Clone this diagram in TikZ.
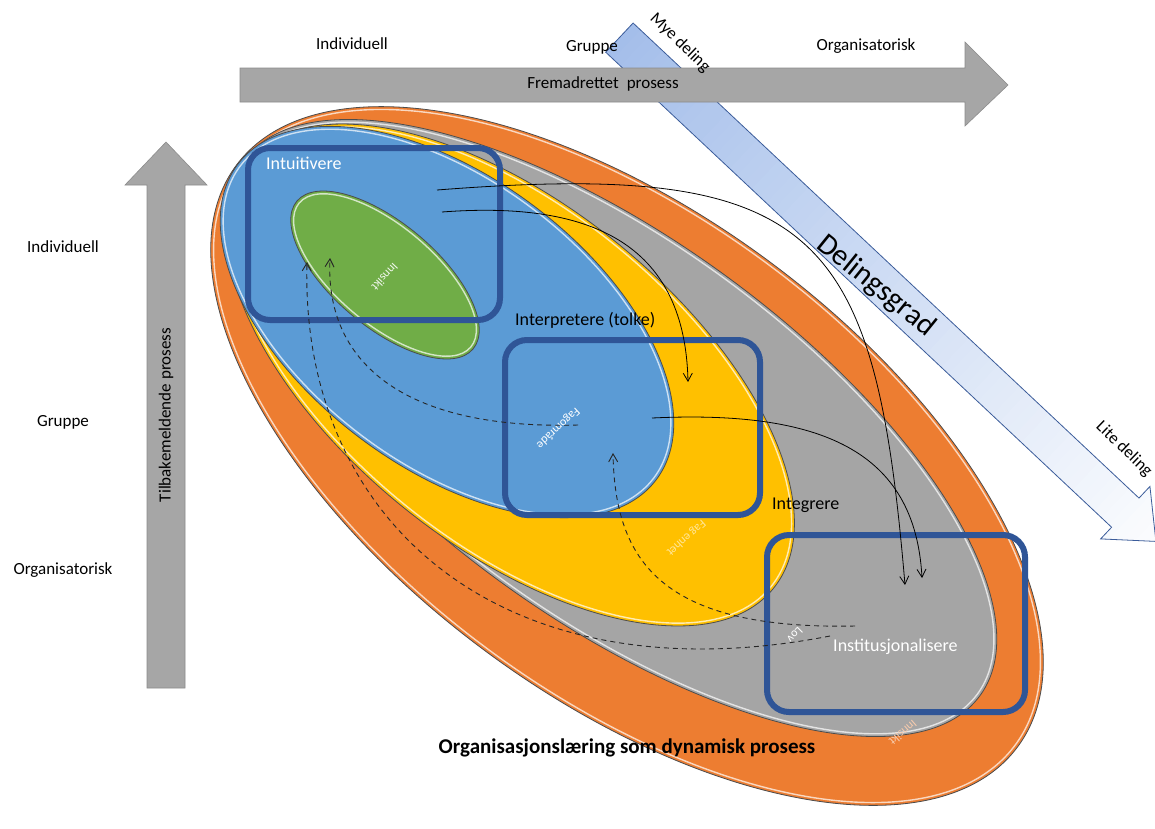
\documentclass[tikz,border=0pt]{standalone}
\usepackage{fontspec}
\setmainfont{Carlito}
\usetikzlibrary{arrows.meta}

\definecolor{cOrange}{HTML}{ED7D31}
\definecolor{cGray}{HTML}{A5A5A5}
\definecolor{cYellow}{HTML}{FFC000}
\definecolor{cBlue}{HTML}{5B9BD5}
\definecolor{cGreen}{HTML}{70AD47}
\definecolor{cBox}{HTML}{2F5597}
\definecolor{cArrow}{HTML}{A6A6A6}
\definecolor{cArrowEdge}{HTML}{8C8C8C}
\definecolor{cBand}{HTML}{A4BEEA}
\definecolor{cBandEdge}{HTML}{3B5C9A}

\tikzset{
  lbl/.style={font=\fontsize{17}{19}\selectfont, inner sep=1pt},
  inlbl/.style={font=\fontsize{18}{20}\selectfont, inner sep=1pt},
  wlbl/.style={inlbl, text=white},
  ringedge/.style={draw=black!70, line width=0.8pt},
  ringlight/.style={draw=white, opacity=0.7, line width=1.4pt},
  stagebox/.style={draw=cBox, line width=6pt, rounded corners=22pt, fill=none},
  flow/.style={draw=black, line width=0.8pt, -{Straight Barb[length=8pt,width=9pt]}},
  back/.style={draw=black!85, line width=0.9pt, dash pattern=on 5pt off 4pt, -{Straight Barb[length=8pt,width=9pt]}},
  turned/.style={font=\fontsize{12}{14}\selectfont, inner sep=0pt},
  bigarrow/.style={fill=cArrow, draw=cArrowEdge, line width=0.6pt},
}

\begin{document}
\begin{tikzpicture}[x=1pt,y=-1pt]
\useasboundingbox (0,0) rectangle (1155,828);
\fill[white] (0,0) rectangle (1155,828);

% nested learning levels
\fill[cOrange, rotate around={-36.7:(627,456)}] (627,456) ellipse [x radius=487, y radius=241];
\path[ringlight, rotate around={-36.7:(627,456)}] (627,456) ellipse [x radius=484, y radius=238];
\path[ringedge, rotate around={-36.7:(627,456)}] (627,456) ellipse [x radius=487, y radius=241];

\fill[cGray, rotate around={-36:(612,428)}] (612,428) ellipse [x radius=455, y radius=190];
\path[ringlight, rotate around={-36:(612,428)}] (612,428) ellipse [x radius=452, y radius=187];
\path[ringedge, rotate around={-36:(612,428)}] (612,428) ellipse [x radius=455, y radius=190];

\fill[cYellow, rotate around={-39:(510,375)}] (510,375) ellipse [x radius=339, y radius=170];
\path[ringlight, rotate around={-39:(510,375)}] (510,375) ellipse [x radius=336, y radius=167];
\path[ringedge, rotate around={-39:(510,375)}] (510,375) ellipse [x radius=339, y radius=170];

\fill[cBlue, rotate around={-37:(447,322)}] (447,322) ellipse [x radius=262, y radius=145];
\path[ringlight, rotate around={-37:(447,322)}] (447,322) ellipse [x radius=259, y radius=142];
\path[ringedge, rotate around={-37:(447,322)}] (447,322) ellipse [x radius=262, y radius=145];

\fill[cGreen, rotate around={-40:(385,275)}] (385,275) ellipse [x radius=115, y radius=52];
\path[ringlight, rotate around={-40:(385,275)}] (385,275) ellipse [x radius=112, y radius=49];
\path[ringedge, rotate around={-40:(385,275)}] (385,275) ellipse [x radius=115, y radius=52];

% words inside the levels
\node[turned, text=white!90!cGreen, rotate=227] (wGreen) at (385,277) {Innsikt};
\node[turned, text=white, rotate=223] (wBlue) at (558,428) {Fagområde};
\node[turned, text=white!60!cYellow, rotate=222] (wYellow) at (686,538) {Fag enhet};
\node[turned, text=white, rotate=225] (wGray) at (795,635) {Lov};
\node[turned, text=white!60!cOrange, rotate=221] (wOrange) at (903,733) {Innsikt};

% the four stages
\node[stagebox, minimum width=252pt, minimum height=172pt] (bIntu) at (374,234) {};
\node[stagebox, minimum width=255pt, minimum height=175pt] (bInterp) at (632.5,427.5) {};
\node[stagebox, minimum width=258pt, minimum height=177pt] (bInst) at (896,623.5) {};

\node[wlbl, anchor=west] (lIntu) at (265,163) {Intuitivere};
\node[inlbl, anchor=west] (lInterp) at (514,320) {Interpretere (tolke)};
\node[inlbl, anchor=west] (lInteg) at (771,505) {Integrere};
\node[wlbl, anchor=west] (lInst) at (832,647) {Institusjonalisere};

% degree of sharing
\begin{scope}[shift={(619.4,37.6)}, rotate=-43.2]
  \begin{scope}
    \clip (0,-20) -- (694,-20) -- (694,-36) -- (736,0) -- (694,36) -- (694,20) -- (0,20) -- cycle;
    \foreach \i in {0,...,74} {
      \pgfmathtruncatemacro\p{max(3,100-\i*1.3)}
      \fill[cBand!\p!white] (\i*10,-40) rectangle (\i*10+11,40);
    }
  \end{scope}
  \draw[cBandEdge, line width=0.8pt] (0,-20) -- (694,-20) -- (694,-36) -- (736,0) -- (694,36) -- (694,20) -- (0,20) -- cycle;
\end{scope}
\node[font=\fontsize{30}{32}\selectfont, rotate=-39] (tShare) at (876,286) {Delingsgrad};
\node[lbl, rotate=-44] (tLittle) at (1124,449) {Lite deling};

% flows forward
\coordinate (f1s) at (437,190);  \coordinate (f1e) at (905,585);
\coordinate (f2s) at (442,212);  \coordinate (f2e) at (688,382);
\coordinate (f3s) at (652,418);  \coordinate (f3e) at (922,578);
\draw[flow] (f1s) .. controls (820,160) and (875,230) .. (f1e);
\draw[flow] (f2s) .. controls (600,200) and (685,250) .. (f2e);
\draw[flow] (f3s) .. controls (820,410) and (915,450) .. (f3e);

% feedback flows
\coordinate (d1s) at (578,425);  \coordinate (d1e) at (330,258);
\coordinate (d2s) at (855,626);  \coordinate (d2e) at (613,453);
\coordinate (d3s) at (830,636);  \coordinate (d3e) at (307,262);
\draw[back] (d1s) .. controls (400,430) and (325,360) .. (d1e);
\draw[back] (d2s) .. controls (660,630) and (615,560) .. (d2e);
\draw[back] (d3s) .. controls (500,700) and (300,520) .. (d3e);

% forward process arrow
\path[bigarrow] (240,68) -- (965,68) -- (965,42) -- (1008,85) -- (965,126) -- (965,102) -- (240,102) -- cycle;
\node[lbl] (tFwd) at (603,84) {Fremadrettet\hspace{0.25em} prosess};
\node[lbl] (tTopA) at (352,44) {Individuell};
\node[lbl] (tTopB) at (592,47) {Gruppe};
\node[lbl] (tTopC) at (866,46) {Organisatorisk};
\node[lbl, rotate=-44] (tMuch) at (680,43) {Mye deling};

% feedback process arrow
\path[bigarrow] (147,688) -- (147,185) -- (125,185) -- (166,142) -- (207,185) -- (185,185) -- (185,688) -- cycle;
\node[lbl, rotate=90] (tBack) at (166,415) {Tilbakemeldende prosess};
\node[lbl] (tLeftA) at (63,247) {Individuell};
\node[lbl] (tLeftB) at (63,422) {Gruppe};
\node[lbl] (tLeftC) at (63,570) {Organisatorisk};

\node[font=\bfseries\fontsize{21}{23}\selectfont] (tTitle) at (627,748) {Organisasjonslæring som dynamisk prosess};
\end{tikzpicture}
\end{document}
